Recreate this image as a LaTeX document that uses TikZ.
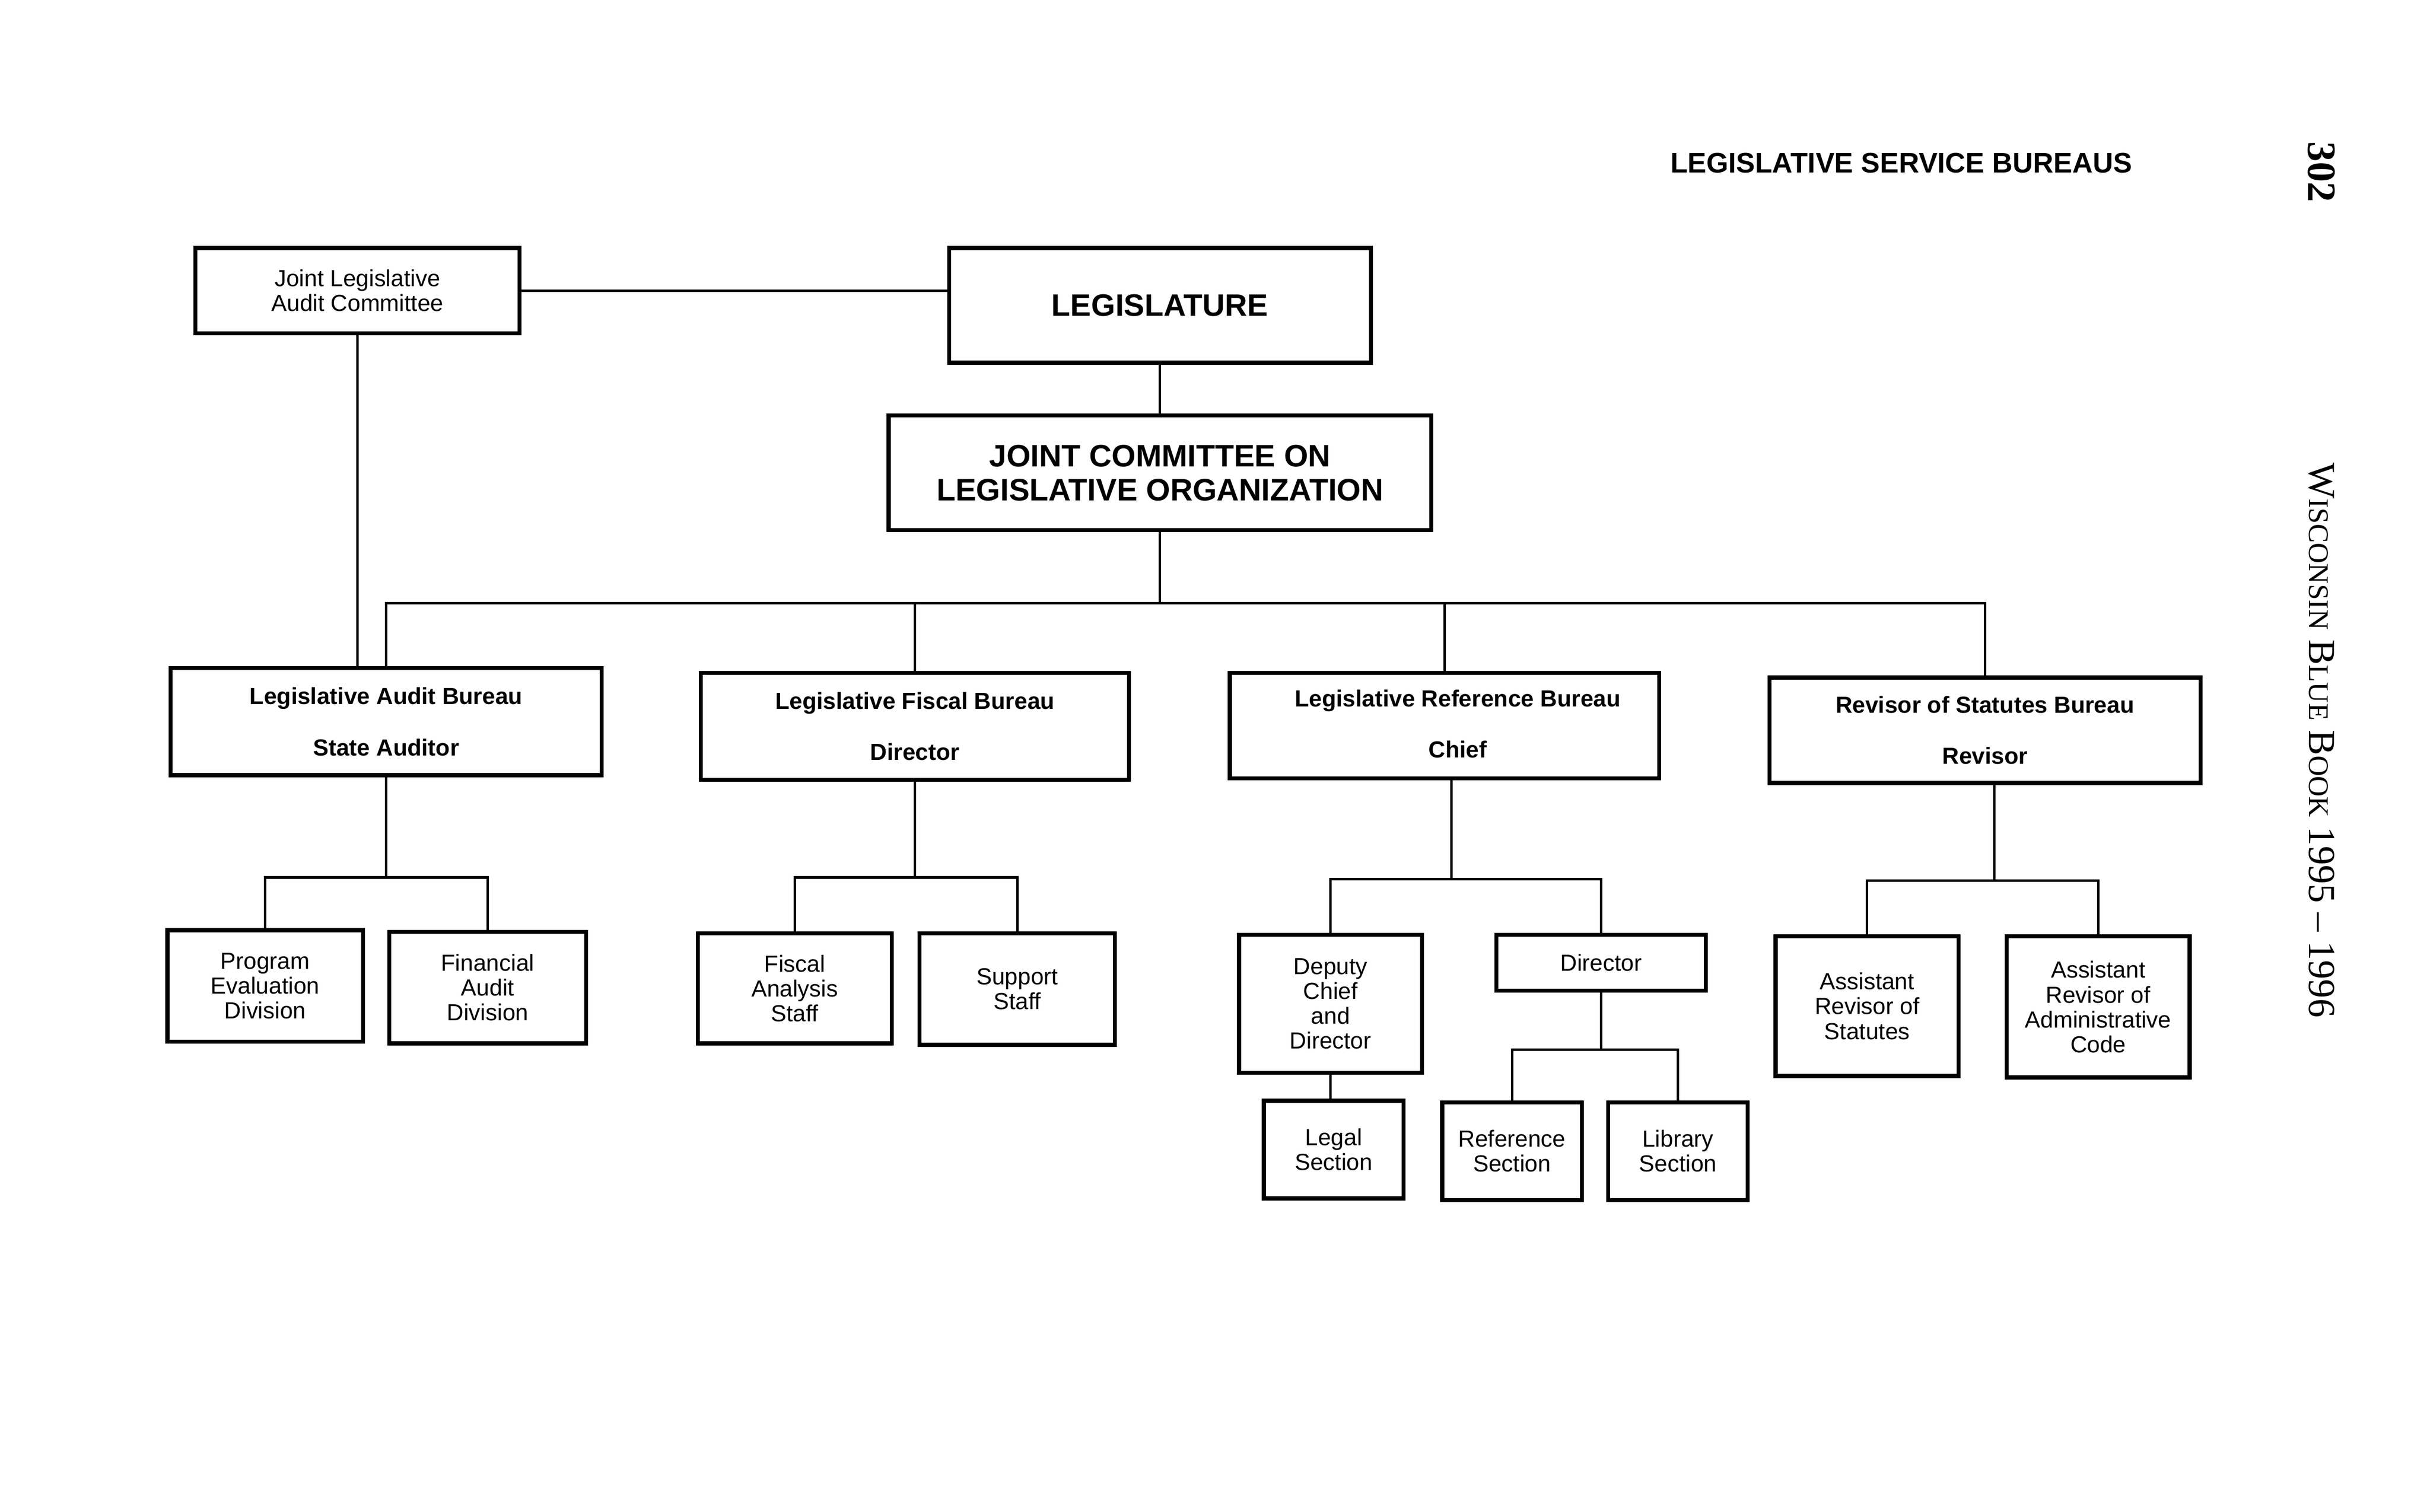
\documentclass[tikz,border=0pt]{standalone}
\usepackage{fontspec}
\setmainfont{Liberation Sans}
\newfontfamily\serifb{Liberation Serif}
\newcommand{\smc}[1]{{\fontsize{9.2}{10}\selectfont #1}}
\begin{document}
\begin{tikzpicture}[x=0.5pt,y=-0.5pt,
  box/.style={draw, line width=1.3pt, inner sep=0pt, align=center, font=\fontsize{7.5}{8}\selectfont},
  bbox/.style={box, font=\bfseries\fontsize{7.5}{8}\selectfont},
  big/.style={box, font=\bfseries\fontsize{10}{11}\selectfont},
  btext/.style={inner sep=0pt, align=center, font=\bfseries\fontsize{7.5}{8}\selectfont},
  conn/.style={line width=0.8pt}]
\useasboundingbox[fill=white] (0,0) rectangle (1567,975.05);

% header
\node[font=\bfseries\fontsize{9.1}{10}\selectfont] (hdr) at (1226,105) {LEGISLATIVE SERVICE BUREAUS};
\node[rotate=-90, font=\serifb\bfseries\fontsize{13}{14}\selectfont] (pg) at (1497,111) {302};
\node[rotate=-90, anchor=west, inner sep=0pt, font=\serifb\fontsize{12.3}{14}\selectfont] (wbb) at (1497,298)
  {W\smc{ISCONSIN} B\smc{LUE} B\smc{OOK} 1995 – 1996};

% top level
\node[box, minimum width=104.5pt, minimum height=27.5pt] (jlac) at (230.5,187.5) {Joint Legislative\\Audit Committee};
\node[big, minimum width=136pt, minimum height=37pt] (leg) at (748,197) {LEGISLATURE};
\node[big, minimum width=175pt, minimum height=37pt] (jclo) at (748,305) {JOINT COMMITTEE ON\\LEGISLATIVE ORGANIZATION};

% bureaus
\node[bbox, minimum width=139pt, minimum height=34.5pt] (lab) at (249,465.5) {Legislative Audit Bureau\\[8.5pt]State Auditor};
\node[bbox, minimum width=138pt, minimum height=34.5pt] (lfb) at (590,468.5) {Legislative Fiscal Bureau\\[8.5pt]Director};
\node[bbox, minimum width=138.5pt, minimum height=34pt] (lrb) at (931.5,468) {};
\node[btext] (lrbt) at (940,467) {Legislative Reference Bureau\\[8.5pt]Chief};
\node[bbox, minimum width=139pt, minimum height=34pt] (rsb) at (1280,471) {Revisor of Statutes Bureau\\[8.5pt]Revisor};

% divisions
\node[box, minimum width=63pt, minimum height=36pt] (ped) at (171,636) {Program\\Evaluation\\Division};
\node[box, minimum width=63.5pt, minimum height=36pt] (fad) at (314.5,637) {Financial\\Audit\\Division};
\node[box, minimum width=62.5pt, minimum height=35.5pt] (fas) at (512.5,637.5) {Fiscal\\Analysis\\Staff};
\node[box, minimum width=63pt, minimum height=36pt] (ss) at (656,638) {Support\\Staff};
\node[box, minimum width=59pt, minimum height=44.5pt] (dep) at (858,647.5) {Deputy\\Chief\\and\\Director};
\node[box, minimum width=67.5pt, minimum height=18pt] (dir) at (1032.5,621) {Director};
\node[box, minimum width=45pt, minimum height=31.5pt] (legal) at (860,741.5) {Legal\\Section};
\node[box, minimum width=45pt, minimum height=31.5pt] (refs) at (975,742.5) {Reference\\Section};
\node[box, minimum width=45pt, minimum height=31.5pt] (libs) at (1082,742.5) {Library\\Section};
\node[box, minimum width=59pt, minimum height=45pt] (ars) at (1204,649) {Assistant\\Revisor of\\Statutes};
\node[box, minimum width=59pt, minimum height=45.5pt] (arac) at (1353,649.5) {Assistant\\Revisor of\\Administrative\\Code};

% junctions
\coordinate (bus) at (748,389);
\coordinate (labs) at (249,566);
\coordinate (lfbs) at (590,566);
\coordinate (lrbs) at (936,567);
\coordinate (dirs) at (1032.5,677);
\coordinate (rsbs) at (1286,568);

% connectors
\draw[conn] (jlac.east) -- (jlac.east -| leg.west);
\draw[conn] (leg.south) -- (jclo.north);
\draw[conn] (jclo.south) -- (bus);
\draw[conn] (lab.north) |- (bus) -| (rsb.north);
\draw[conn] (lfb.north) -- (lfb.north |- bus);
\draw[conn] (lrb.north) -- (lrb.north |- bus);
\draw[conn] (jlac.south) -- (jlac.south |- lab.north);
\draw[conn] (lab.south) -- (labs);
\draw[conn] (ped.north) |- (labs) -| (fad.north);
\draw[conn] (lfb.south) -- (lfbs);
\draw[conn] (fas.north) |- (lfbs) -| (ss.north);
\draw[conn] (lrb.south -| lrbs) -- (lrbs);
\draw[conn] (dep.north) |- (lrbs) -| (dir.north);
\draw[conn] (dir.south) -- (dirs);
\draw[conn] (refs.north) |- (dirs) -| (libs.north);
\draw[conn] (dep.south) -- (dep.south |- legal.north);
\draw[conn] (rsb.south -| rsbs) -- (rsbs);
\draw[conn] (ars.north) |- (rsbs) -| (arac.north);
\end{tikzpicture}
\end{document}
